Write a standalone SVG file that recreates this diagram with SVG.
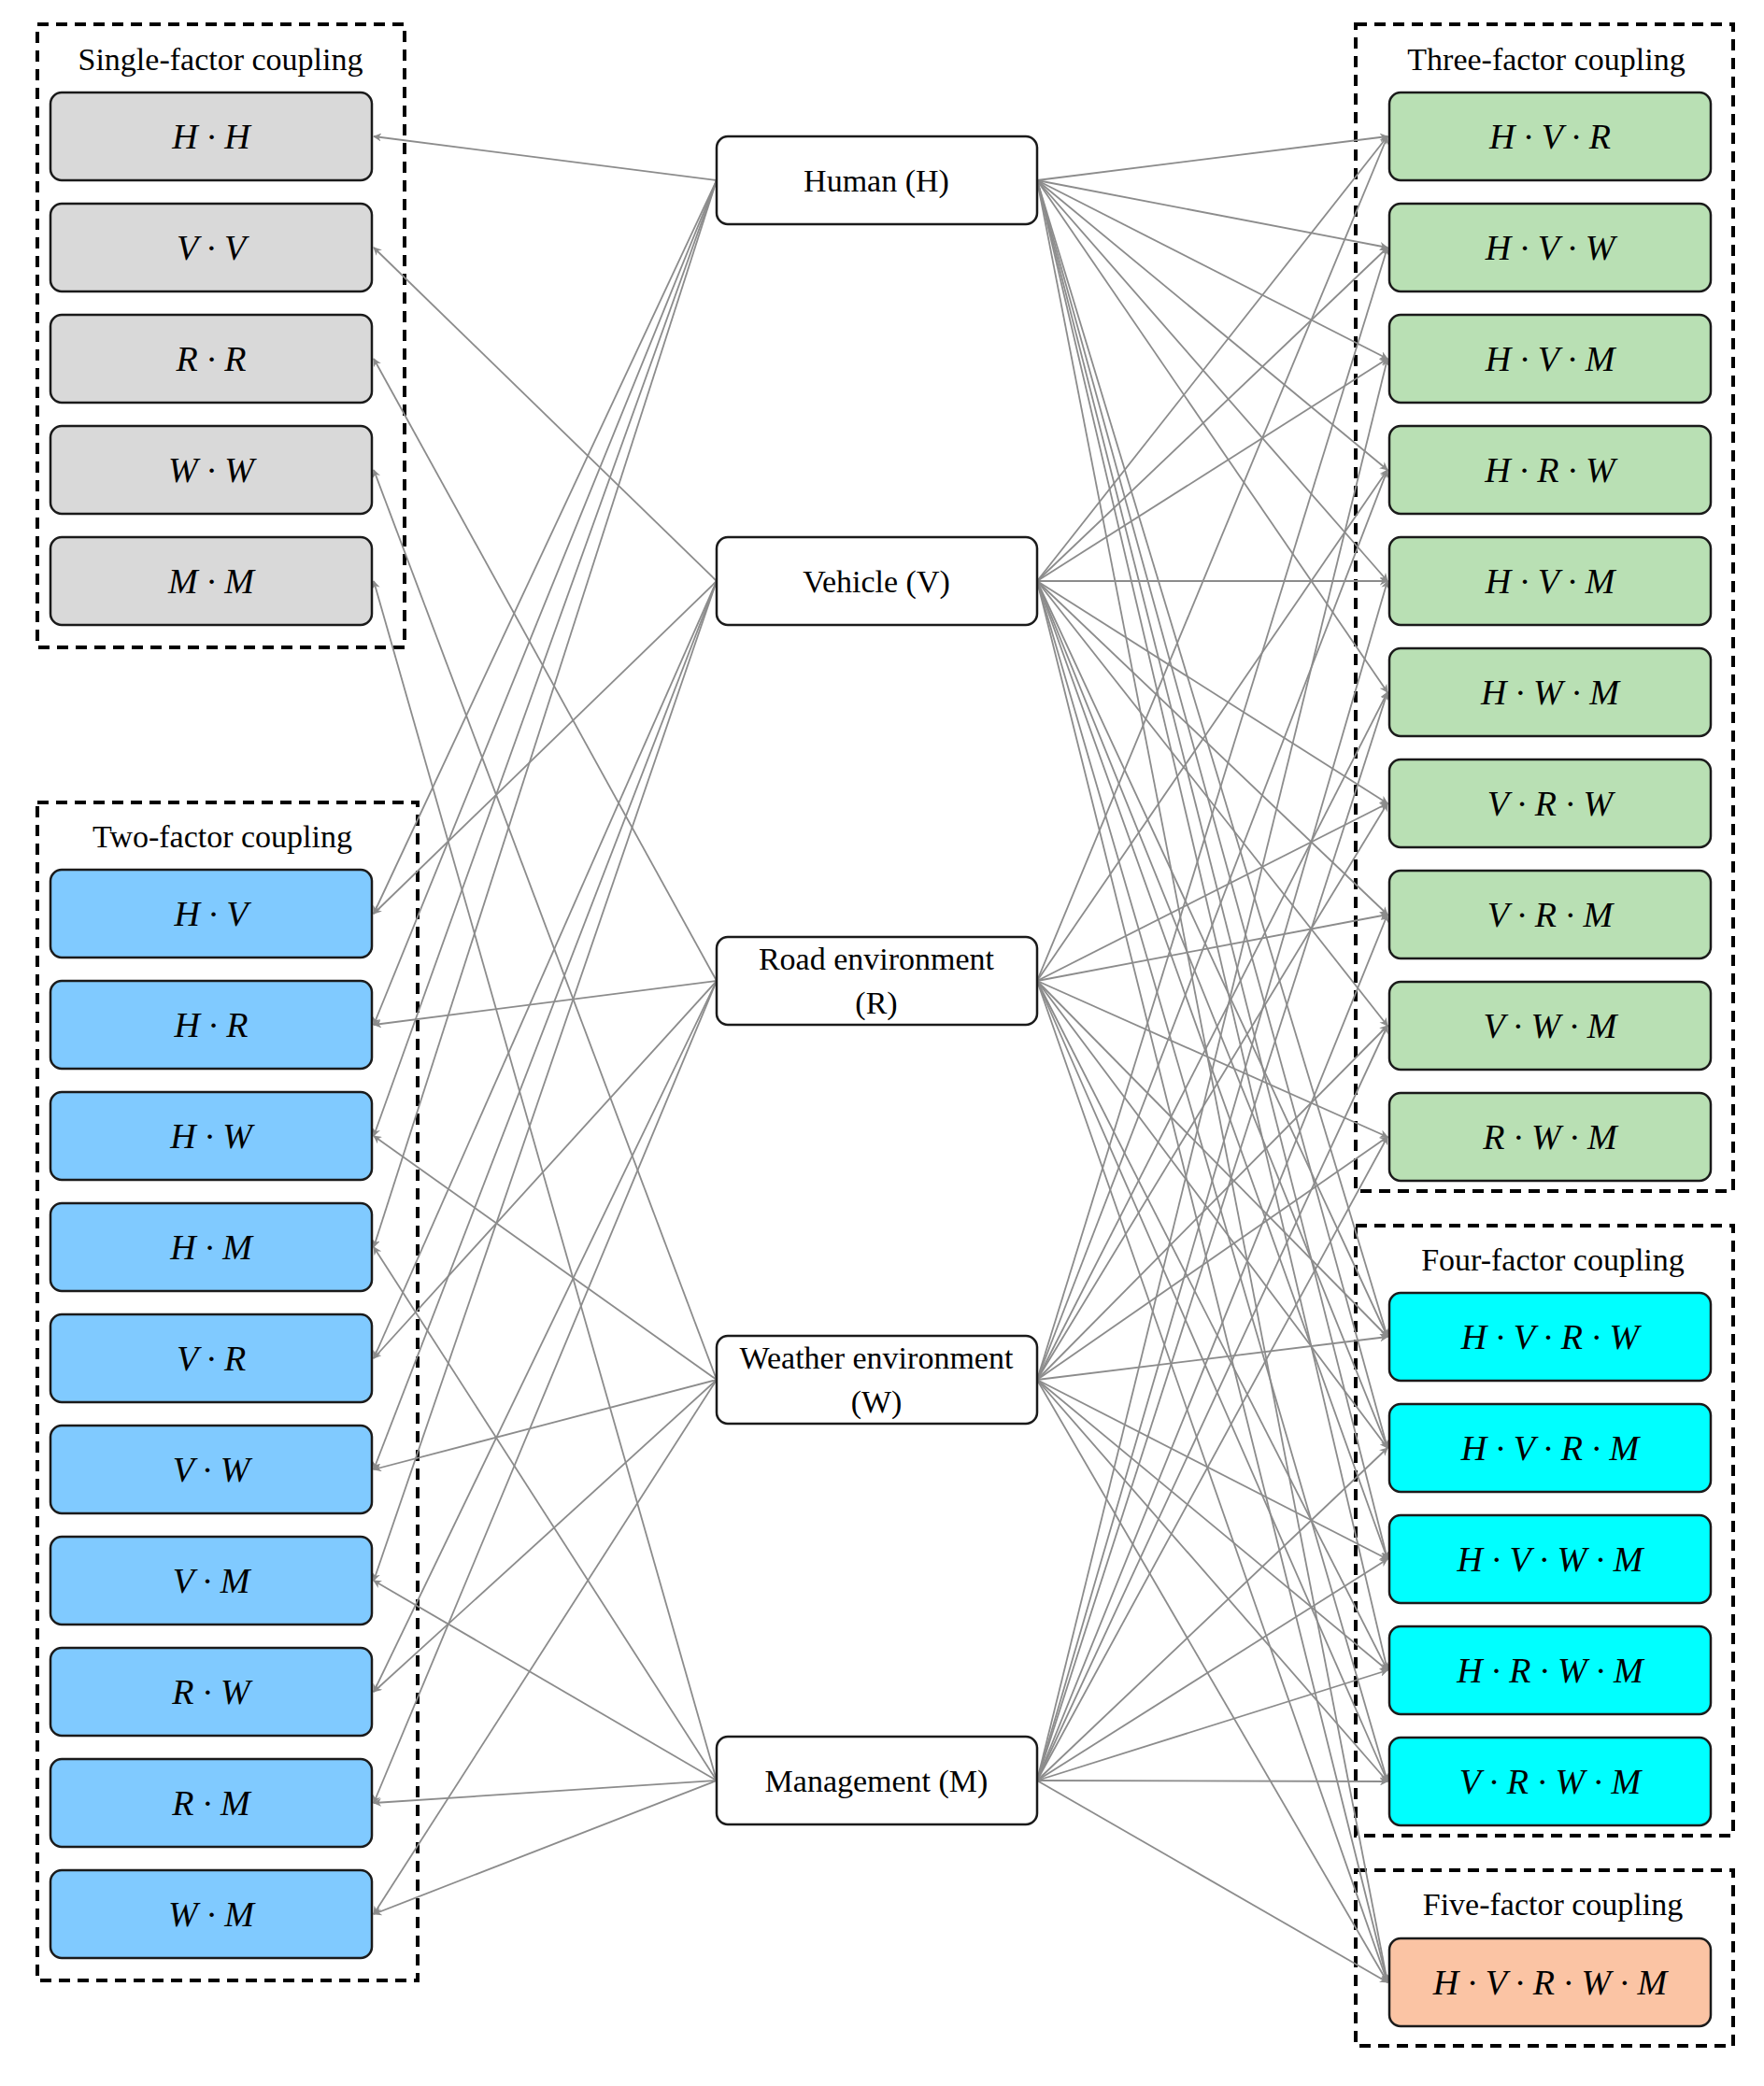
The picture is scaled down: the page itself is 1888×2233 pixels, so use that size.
<svg xmlns="http://www.w3.org/2000/svg" width="1888" height="2233" viewBox="0 0 1888 2233">
<style>
.grp{fill:none;stroke:#000;stroke-width:4;stroke-dasharray:12 8}
.n{stroke:#1a1a1a;stroke-width:2.5}
.g{fill:#d9d9d9}.b{fill:#80caff}.gr{fill:#b9e0b4}.c{fill:#00ffff}.o{fill:#fbc4a4}.w{fill:#fff}
.t{font-family:"Liberation Serif",serif;font-size:34px;text-anchor:middle;fill:#000}
.m{font-family:"Liberation Serif",serif;font-style:italic;font-size:38px;text-anchor:middle;fill:#000}
.e path{fill:none;stroke:#8c8c8c;stroke-width:1.8;marker-end:url(#a)}
</style>
<defs><marker id="a" viewBox="0 0 10 10" refX="9" refY="5" markerWidth="9" markerHeight="9" markerUnits="userSpaceOnUse" orient="auto"><path d="M0,0L10,5L0,10L3,5Z" fill="#8c8c8c"/></marker></defs>
<rect width="1888" height="2233" fill="#fff"/>
<g id="groups">
<rect class="grp" x="40" y="26" width="393" height="667"/>
<text class="t" x="236" y="75">Single-factor coupling</text>
<rect class="grp" x="40" y="859" width="407" height="1261"/>
<text class="t" x="238" y="907">Two-factor coupling</text>
<rect class="grp" x="1451" y="26" width="404" height="1249"/>
<text class="t" x="1655" y="75">Three-factor coupling</text>
<rect class="grp" x="1451" y="1312" width="404" height="653"/>
<text class="t" x="1662" y="1360">Four-factor coupling</text>
<rect class="grp" x="1451" y="2002" width="404" height="188"/>
<text class="t" x="1662" y="2050">Five-factor coupling</text>
</g>
<g class="e" id="connectors">
<path d="M767,193L400,146"/><path d="M767,193L400,978"/><path d="M767,193L400,1097"/><path d="M767,193L400,1216"/><path d="M767,193L400,1335"/>
<path d="M767,622L400,265"/><path d="M767,622L400,978"/><path d="M767,622L400,1454"/><path d="M767,622L400,1573"/><path d="M767,622L400,1692"/>
<path d="M767,1050L400,384"/><path d="M767,1050L400,1097"/><path d="M767,1050L400,1454"/><path d="M767,1050L400,1811"/><path d="M767,1050L400,1930"/>
<path d="M767,1477L400,503"/><path d="M767,1477L400,1216"/><path d="M767,1477L400,1573"/><path d="M767,1477L400,1811"/><path d="M767,1477L400,2049"/>
<path d="M767,1906L400,622"/><path d="M767,1906L400,1335"/><path d="M767,1906L400,1692"/><path d="M767,1906L400,1930"/><path d="M767,1906L400,2049"/>
<path d="M1110,193L1485,146"/><path d="M1110,193L1485,265"/><path d="M1110,193L1485,384"/><path d="M1110,193L1485,503"/><path d="M1110,193L1485,622"/><path d="M1110,193L1485,741"/>
<path d="M1110,193L1485,1431"/><path d="M1110,193L1485,1550"/><path d="M1110,193L1485,1669"/><path d="M1110,193L1485,1788"/><path d="M1110,193L1485,2122"/>
<path d="M1110,622L1485,146"/><path d="M1110,622L1485,265"/><path d="M1110,622L1485,384"/><path d="M1110,622L1485,622"/><path d="M1110,622L1485,860"/><path d="M1110,622L1485,979"/><path d="M1110,622L1485,1098"/>
<path d="M1110,622L1485,1431"/><path d="M1110,622L1485,1550"/><path d="M1110,622L1485,1669"/><path d="M1110,622L1485,1907"/><path d="M1110,622L1485,2122"/>
<path d="M1110,1050L1485,146"/><path d="M1110,1050L1485,503"/><path d="M1110,1050L1485,860"/><path d="M1110,1050L1485,979"/><path d="M1110,1050L1485,1217"/>
<path d="M1110,1050L1485,1431"/><path d="M1110,1050L1485,1550"/><path d="M1110,1050L1485,1788"/><path d="M1110,1050L1485,1907"/><path d="M1110,1050L1485,2122"/>
<path d="M1110,1477L1485,265"/><path d="M1110,1477L1485,503"/><path d="M1110,1477L1485,741"/><path d="M1110,1477L1485,860"/><path d="M1110,1477L1485,1098"/><path d="M1110,1477L1485,1217"/>
<path d="M1110,1477L1485,1431"/><path d="M1110,1477L1485,1669"/><path d="M1110,1477L1485,1788"/><path d="M1110,1477L1485,1907"/><path d="M1110,1477L1485,2122"/>
<path d="M1110,1906L1485,384"/><path d="M1110,1906L1485,622"/><path d="M1110,1906L1485,741"/><path d="M1110,1906L1485,979"/><path d="M1110,1906L1485,1098"/><path d="M1110,1906L1485,1217"/>
<path d="M1110,1906L1485,1550"/><path d="M1110,1906L1485,1669"/><path d="M1110,1906L1485,1788"/><path d="M1110,1906L1485,1907"/><path d="M1110,1906L1485,2122"/>
</g>
<g id="center">
<g id="human"><rect class="n w" x="767" y="146" width="343" height="94" rx="12"/><text class="t" x="938" y="205">Human (H)</text></g>
<g id="vehicle"><rect class="n w" x="767" y="575" width="343" height="94" rx="12"/><text class="t" x="938" y="634">Vehicle (V)</text></g>
<g id="road"><rect class="n w" x="767" y="1003" width="343" height="94" rx="12"/><text class="t" x="938" y="1038">Road environment</text><text class="t" x="938" y="1085">(R)</text></g>
<g id="weather"><rect class="n w" x="767" y="1430" width="343" height="94" rx="12"/><text class="t" x="938" y="1465">Weather environment</text><text class="t" x="938" y="1512">(W)</text></g>
<g id="management"><rect class="n w" x="767" y="1859" width="343" height="94" rx="12"/><text class="t" x="938" y="1918">Management (M)</text></g>
</g>
<g id="single">
<g id="HH"><rect class="n g" x="54" y="99" width="344" height="94" rx="12"/><text class="m" x="226" y="159">H · H</text></g>
<g id="VV"><rect class="n g" x="54" y="218" width="344" height="94" rx="12"/><text class="m" x="226" y="278">V · V</text></g>
<g id="RR"><rect class="n g" x="54" y="337" width="344" height="94" rx="12"/><text class="m" x="226" y="397">R · R</text></g>
<g id="WW"><rect class="n g" x="54" y="456" width="344" height="94" rx="12"/><text class="m" x="226" y="516">W · W</text></g>
<g id="MM"><rect class="n g" x="54" y="575" width="344" height="94" rx="12"/><text class="m" x="226" y="635">M · M</text></g>
</g>
<g id="two">
<g id="HV"><rect class="n b" x="54" y="931" width="344" height="94" rx="12"/><text class="m" x="226" y="991">H · V</text></g>
<g id="HR"><rect class="n b" x="54" y="1050" width="344" height="94" rx="12"/><text class="m" x="226" y="1110">H · R</text></g>
<g id="HW"><rect class="n b" x="54" y="1169" width="344" height="94" rx="12"/><text class="m" x="226" y="1229">H · W</text></g>
<g id="HM"><rect class="n b" x="54" y="1288" width="344" height="94" rx="12"/><text class="m" x="226" y="1348">H · M</text></g>
<g id="VR"><rect class="n b" x="54" y="1407" width="344" height="94" rx="12"/><text class="m" x="226" y="1467">V · R</text></g>
<g id="VW"><rect class="n b" x="54" y="1526" width="344" height="94" rx="12"/><text class="m" x="226" y="1586">V · W</text></g>
<g id="VM"><rect class="n b" x="54" y="1645" width="344" height="94" rx="12"/><text class="m" x="226" y="1705">V · M</text></g>
<g id="RW"><rect class="n b" x="54" y="1764" width="344" height="94" rx="12"/><text class="m" x="226" y="1824">R · W</text></g>
<g id="RM"><rect class="n b" x="54" y="1883" width="344" height="94" rx="12"/><text class="m" x="226" y="1943">R · M</text></g>
<g id="WM"><rect class="n b" x="54" y="2002" width="344" height="94" rx="12"/><text class="m" x="226" y="2062">W · M</text></g>
</g>
<g id="three">
<g id="HVR"><rect class="n gr" x="1487" y="99" width="344" height="94" rx="12"/><text class="m" x="1659" y="159">H · V · R</text></g>
<g id="HVW"><rect class="n gr" x="1487" y="218" width="344" height="94" rx="12"/><text class="m" x="1659" y="278">H · V · W</text></g>
<g id="HVM1"><rect class="n gr" x="1487" y="337" width="344" height="94" rx="12"/><text class="m" x="1659" y="397">H · V · M</text></g>
<g id="HRW"><rect class="n gr" x="1487" y="456" width="344" height="94" rx="12"/><text class="m" x="1659" y="516">H · R · W</text></g>
<g id="HVM2"><rect class="n gr" x="1487" y="575" width="344" height="94" rx="12"/><text class="m" x="1659" y="635">H · V · M</text></g>
<g id="HWM"><rect class="n gr" x="1487" y="694" width="344" height="94" rx="12"/><text class="m" x="1659" y="754">H · W · M</text></g>
<g id="VRW"><rect class="n gr" x="1487" y="813" width="344" height="94" rx="12"/><text class="m" x="1659" y="873">V · R · W</text></g>
<g id="VRM"><rect class="n gr" x="1487" y="932" width="344" height="94" rx="12"/><text class="m" x="1659" y="992">V · R · M</text></g>
<g id="VWM"><rect class="n gr" x="1487" y="1051" width="344" height="94" rx="12"/><text class="m" x="1659" y="1111">V · W · M</text></g>
<g id="RWM"><rect class="n gr" x="1487" y="1170" width="344" height="94" rx="12"/><text class="m" x="1659" y="1230">R · W · M</text></g>
</g>
<g id="four">
<g id="HVRW"><rect class="n c" x="1487" y="1384" width="344" height="94" rx="12"/><text class="m" x="1659" y="1444">H · V · R · W</text></g>
<g id="HVRM"><rect class="n c" x="1487" y="1503" width="344" height="94" rx="12"/><text class="m" x="1659" y="1563">H · V · R · M</text></g>
<g id="HVWM"><rect class="n c" x="1487" y="1622" width="344" height="94" rx="12"/><text class="m" x="1659" y="1682">H · V · W · M</text></g>
<g id="HRWM"><rect class="n c" x="1487" y="1741" width="344" height="94" rx="12"/><text class="m" x="1659" y="1801">H · R · W · M</text></g>
<g id="VRWM"><rect class="n c" x="1487" y="1860" width="344" height="94" rx="12"/><text class="m" x="1659" y="1920">V · R · W · M</text></g>
</g>
<g id="five">
<g id="HVRWM"><rect class="n o" x="1487" y="2075" width="344" height="94" rx="12"/><text class="m" x="1659" y="2135">H · V · R · W · M</text></g>
</g>
</svg>
